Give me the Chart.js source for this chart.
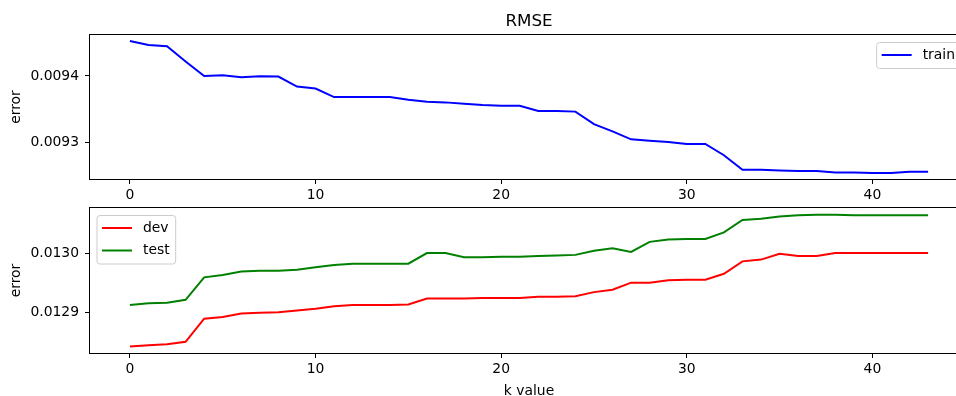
<!DOCTYPE html>
<html>
<head>
<meta charset="utf-8">
<script src="https://cdn.jsdelivr.net/npm/chart.js@4.4.1/dist/chart.umd.min.js"></script>
<style>
  html, body { margin: 0; padding: 0; background: #fff; width: 956px; height: 396px; overflow: hidden; position: relative; }
  canvas { position: absolute; left: 0; }
  #topChart { top: 0; }
  #bottomChart { top: 200px; }
</style>
</head>
<body>
<canvas id="topChart" width="1000" height="200"></canvas>
<canvas id="bottomChart" width="1000" height="200"></canvas>
<script>
// k values (x axis)
const kValues = [0, 1, 2, 3, 4, 5, 6, 7, 8, 9, 10, 11, 12, 13, 14, 15, 16, 17, 18, 19, 20, 21,
  22, 23, 24, 25, 26, 27, 28, 29, 30, 31, 32, 33, 34, 35, 36, 37, 38, 39, 40, 41, 42, 43];

// RMSE
const trainRmse = [0.009453, 0.009447, 0.009445, 0.009422, 0.009400, 0.009401, 0.009398, 0.0093995,
  0.009399, 0.009384, 0.009381, 0.009368, 0.009368, 0.009368, 0.009368, 0.009364, 0.009361, 0.009360,
  0.009358, 0.009356, 0.009355, 0.009355, 0.009347, 0.009347, 0.009346, 0.009327, 0.009316, 0.009304,
  0.009302, 0.009300, 0.009297, 0.009297, 0.009280, 0.009258, 0.009258, 0.009257, 0.009256, 0.009256,
  0.009254, 0.009254, 0.009253, 0.009253, 0.009255, 0.009255];

const devRmse = [0.012842, 0.012844, 0.012846, 0.012850, 0.012889, 0.012892, 0.012898, 0.012899,
  0.012900, 0.012903, 0.012906, 0.012910, 0.012912, 0.012912, 0.012912, 0.012913, 0.012923, 0.012923,
  0.012923, 0.012924, 0.012924, 0.012924, 0.012926, 0.012926, 0.012927, 0.012934, 0.012938, 0.012950,
  0.012950, 0.012954, 0.012955, 0.012955, 0.012965, 0.012986, 0.012989, 0.012999, 0.012995, 0.012995,
  0.013000, 0.013000, 0.013000, 0.013000, 0.013000, 0.013000];

const testRmse = [0.012912, 0.012915, 0.012916, 0.012921, 0.012959, 0.012963, 0.012969, 0.012970,
  0.012970, 0.012972, 0.012976, 0.012980, 0.012982, 0.012982, 0.012982, 0.012982, 0.013000, 0.013000,
  0.012993, 0.012993, 0.012994, 0.012994, 0.012995, 0.012996, 0.012997, 0.013004, 0.013008, 0.013002,
  0.013019, 0.013023, 0.013024, 0.013024, 0.013035, 0.013056, 0.013058, 0.013062, 0.013064, 0.013065,
  0.013065, 0.013064, 0.013064, 0.013064, 0.013064, 0.013064];

// axis limits and ticks
const xRange = [-2.15, 45.15];
const xTicks = [0, 10, 20, 30, 40];
const topRange = [0.009244, 0.009462];
const topTicks = [0.0093, 0.0094];
const bottomRange = [0.012831, 0.0130763];
const bottomTicks = [0.0129, 0.0130];

const FONT = 'DejaVu Sans';
const FS = 13.9;
Chart.defaults.font.family = FONT;
Chart.defaults.font.size = FS;
Chart.defaults.color = '#000';

const pts = vals => vals.map((v, i) => ({x: kValues[i], y: v}));

// frame, title and matplotlib-style legend inside the axes
const decor = {
  id: 'decor',
  afterDraw(chart, args, opts) {
    const {ctx, chartArea: a} = chart;
    ctx.save();
    ctx.strokeStyle = '#000';
    ctx.lineWidth = 1;
    ctx.strokeRect(Math.round(a.left) - 0.5, Math.round(a.top) - 0.5,
      Math.round(a.right - a.left) + 1, Math.round(a.bottom - a.top) + 1);

    if (opts.title) {
      ctx.fillStyle = '#000';
      ctx.font = '16.7px "' + FONT + '"';
      ctx.textAlign = 'center';
      ctx.textBaseline = 'alphabetic';
      ctx.fillText(opts.title, (a.left + a.right) / 2, a.top - 9);
    }

    const items = chart.data.datasets;
    ctx.font = FS + 'px "' + FONT + '"';
    const textW = Math.max(...items.map(d => ctx.measureText(d.label).width));
    const w = 5 + 30 + 11 + textW + 6;
    const h = 26 + (items.length - 1) * 22.5;
    const bx = opts.corner === 'right' ? a.right - 7 - w : a.left + 7;
    const by = a.top + 7.5;
    ctx.beginPath();
    ctx.roundRect(bx, by, w, h, 3);
    ctx.fillStyle = 'rgba(255,255,255,0.8)';
    ctx.fill();
    ctx.strokeStyle = '#cccccc';
    ctx.stroke();
    items.forEach((d, i) => {
      const y = by + 12.5 + i * 22.5;
      ctx.beginPath();
      ctx.moveTo(bx + 5, y);
      ctx.lineTo(bx + 35, y);
      ctx.strokeStyle = d.borderColor;
      ctx.lineWidth = 2;
      ctx.stroke();
      ctx.fillStyle = '#000';
      ctx.textAlign = 'left';
      ctx.textBaseline = 'middle';
      ctx.fillText(d.label, bx + 46, y);
    });
    ctx.restore();
  }
};

function makeChart(id, datasets, yRange, yTicks, padTop, xAxisHeight, xTitle, decorOpts) {
  return new Chart(document.getElementById(id), {
    type: 'line',
    data: {datasets},
    options: {
      responsive: false,
      animation: false,
      devicePixelRatio: 1,
      layout: {padding: {top: padTop, right: 32, left: 0, bottom: 0}},
      plugins: {legend: {display: false}, tooltip: {enabled: false}, decor: decorOpts},
      elements: {point: {radius: 0}, line: {borderWidth: 2, tension: 0}},
      scales: {
        x: {
          type: 'linear', min: xRange[0], max: xRange[1],
          afterBuildTicks: s => { s.ticks = xTicks.map(v => ({value: v})); },
          afterFit: s => { s.height = xAxisHeight; s.paddingLeft = 0; s.paddingRight = 0; },
          ticks: {padding: 3.5, maxRotation: 0, autoSkip: false},
          grid: {drawOnChartArea: false, drawTicks: true, tickLength: 5, color: '#000', lineWidth: 1},
          border: {display: false},
          title: {display: !!xTitle, text: xTitle, padding: {top: 0, bottom: 0}}
        },
        y: {
          min: yRange[0], max: yRange[1],
          afterBuildTicks: s => { s.ticks = yTicks.map(v => ({value: v})); },
          afterFit: s => { s.width = 90; s.paddingTop = 0; s.paddingBottom = 0; },
          ticks: {padding: 6, callback: v => v.toFixed(4)},
          grid: {drawOnChartArea: false, drawTicks: true, tickLength: 5, color: '#000', lineWidth: 1},
          border: {display: false},
          title: {display: true, text: 'error', padding: {top: 8, bottom: 0}}
        }
      }
    },
    plugins: [decor]
  });
}

makeChart('topChart',
  [{label: 'train', data: pts(trainRmse), borderColor: '#0000ff', fill: false}],
  topRange, topTicks, 35, 21, '', {title: 'RMSE', corner: 'right'});

makeChart('bottomChart',
  [{label: 'dev', data: pts(devRmse), borderColor: '#ff0000', fill: false},
   {label: 'test', data: pts(testRmse), borderColor: '#008000', fill: false}],
  bottomRange, bottomTicks, 8, 47, 'k value', {corner: 'left'});
</script>
</body>
</html>
